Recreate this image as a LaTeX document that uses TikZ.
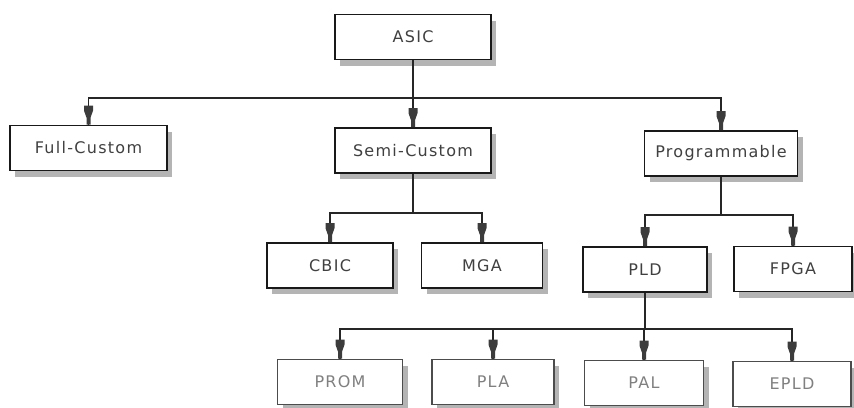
\documentclass[tikz,border=0pt]{standalone}
\usepackage{fontspec}
\setmainfont{DejaVu Sans}[LetterSpace=8]
\usetikzlibrary{shadows}
\definecolor{shadowgray}{HTML}{B4B4B4}
\definecolor{tipgray}{HTML}{3C3C3C}
\tikzset{
  box/.style={draw=black!90, line width=1.6pt, fill=white, minimum width=#1,
    minimum height=45pt, inner sep=0pt, text=black!75,
    font=\fontsize{16}{18}\selectfont,
    drop shadow={shadow xshift=5pt, shadow yshift=-6pt, fill=shadowgray, opacity=1}},
  lightbox/.style={box=#1, draw=black!70, text=black!50},
  conn/.style={line width=1.6pt, black!85},
  arrowtip/.pic={\fill[tipgray] (-4.5,-19) -- (4.5,-19) -- (4.5,-14) -- (2,-7) -- (2,0)
     -- (-2,0) -- (-2,-7) -- (-4.5,-14) -- cycle;}
}
\begin{document}
\begin{tikzpicture}[x=1pt,y=-1pt]
\useasboundingbox (0,0) rectangle (854,407);
% nodes
\node[box=156] (asic) at (413,37) {ASIC};
\node[box=157] (fc) at (88.5,148) {Full-Custom};
\node[box=156] (sc) at (413,150.5) {Semi-Custom};
\node[box=153] (pr) at (721,153.5) {Programmable};
\node[box=126] (cb) at (330,265.5) {CBIC};
\node[box=121] (mg) at (482,265.5) {MGA};
\node[box=124] (pld) at (645,269.5) {PLD};
\node[box=118] (fpga) at (793,269) {FPGA};
\node[lightbox=125] (prom) at (340,382) {PROM};
\node[lightbox=122] (pla) at (493,382) {PLA};
\node[lightbox=119] (pal) at (644,383) {PAL};
\node[lightbox=118] (epld) at (792,384) {EPLD};
% junctions
\coordinate (j1) at (asic.south |- 0,98);
\coordinate (j2) at (sc.south |- 0,213);
\coordinate (j3) at (pr.south |- 0,215);
\coordinate (j4) at (pld.south |- 0,329);
% connectors
\draw[conn] (asic.south) -- (j1);
\draw[conn] (j1) -| (fc.north);
\draw[conn] (j1) -| (pr.north);
\draw[conn] (j1) -- (sc.north);
\draw[conn] (sc.south) -- (j2);
\draw[conn] (j2) -| (cb.north);
\draw[conn] (j2) -| (mg.north);
\draw[conn] (pr.south) -- (j3);
\draw[conn] (j3) -| (pld.north);
\draw[conn] (j3) -| (fpga.north);
\draw[conn] (pld.south) -- (j4);
\draw[conn] (j4) -| (prom.north);
\draw[conn] (j4) -| (pla.north);
\draw[conn] (j4) -| (pal.north);
\draw[conn] (j4) -| (epld.north);
% arrow tips
\foreach \n in {fc,sc,pr,cb,mg,pld,fpga,prom,pla,pal,epld}
  \pic at (\n.north) {arrowtip};
\end{tikzpicture}
\end{document}
